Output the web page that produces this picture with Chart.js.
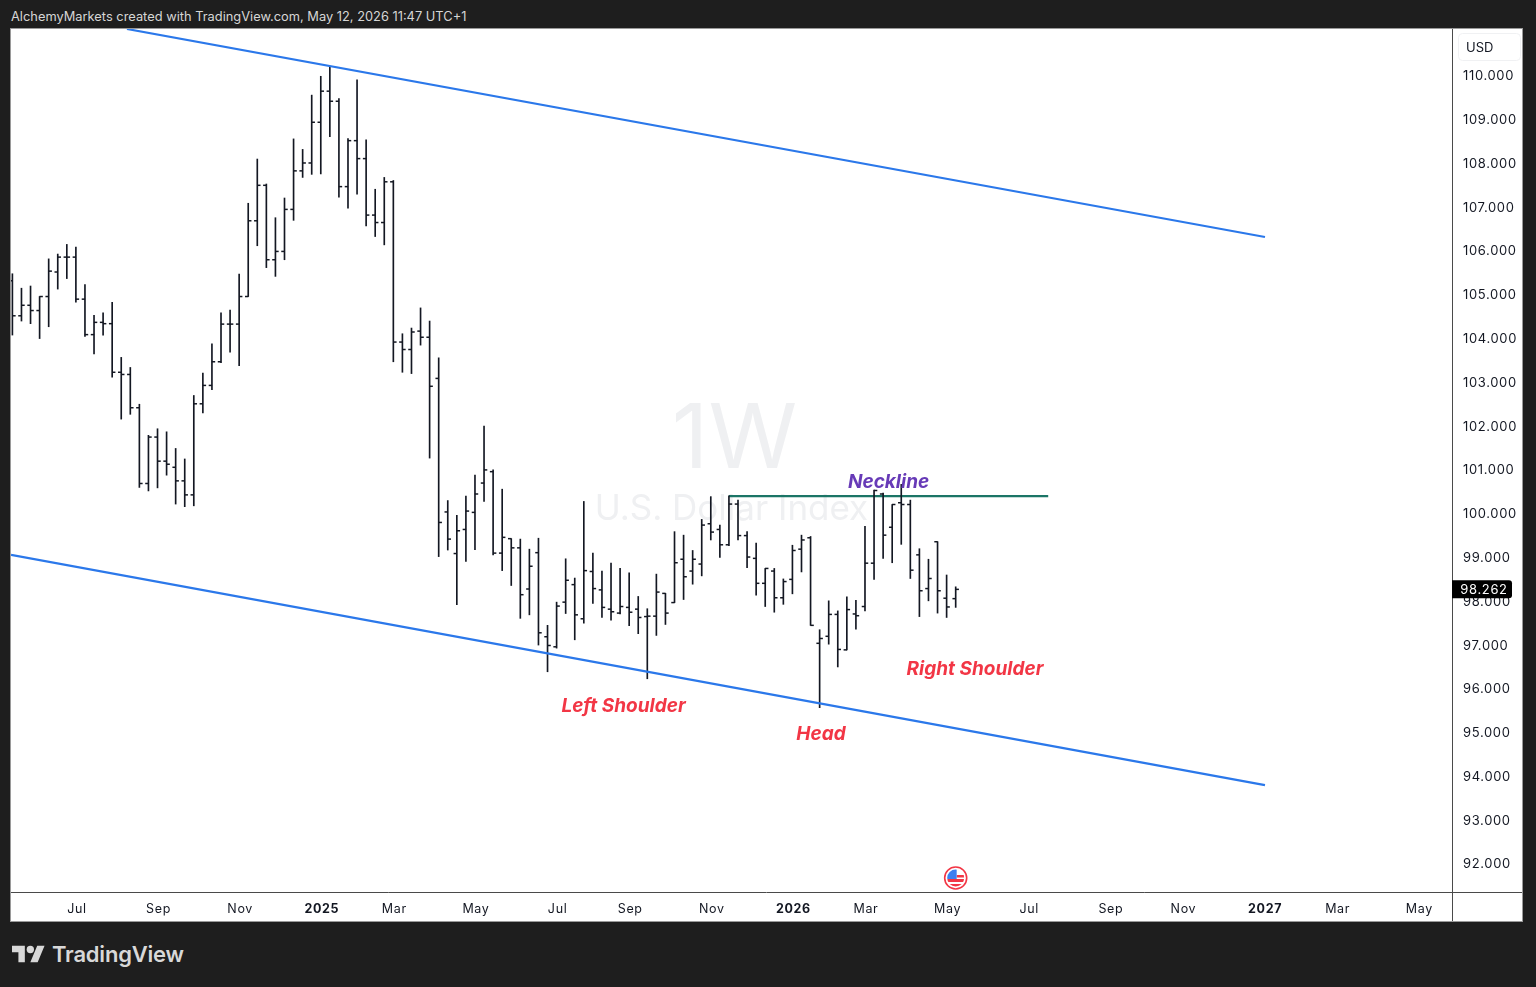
<!DOCTYPE html>
<html>
<head>
<meta charset="utf-8">
<title>U.S. Dollar Index 1W</title>
<script src="https://cdn.jsdelivr.net/npm/chart.js@4"></script>
<style>
    html, body { margin: 0; padding: 0; background: #1e1e1e; width: 1536px; height: 987px; overflow: hidden; }
    #chart { position: absolute; left: 11px; top: 29px; background: #fff; outline: 1px solid #9a9a9a; }
    #head { position: absolute; left: 11px; top: 9px; color: #d6d6d6; font: 12.85px Inter, sans-serif; white-space: nowrap; }
    #logo { position: absolute; left: 12px; top: 942px; }
    #brand { position: absolute; left: 52px; top: 941px; color: #d8d8d8; font: 600 22px Inter, sans-serif; letter-spacing: -0.2px; }
</style>
</head>
<body>
<div id="head">AlchemyMarkets created with TradingView.com, May 12, 2026 11:47 UTC+1</div>
<canvas id="chart" width="1511" height="892"></canvas>
<svg id="logo" width="33" height="26" viewBox="0 0 36 28"><path fill="#d8d8d8" d="M14 22H7V11H0V4h14v18zM28 22h-8l7.5-18h8L28 22z"/><circle fill="#d8d8d8" cx="20" cy="8" r="4"/></svg>
<div id="brand">TradingView</div>
<script>
// weekly bars
var opens = [105.31, 104.51, 104.75, 104.63, 104.95, 105.51, 105.85, 105.85, 104.89, 104.08, 104.36, 104.33, 103.22, 103.17, 102.41, 100.68, 101.74, 101.19, 101.05, 100.74, 100.42, 102.50, 102.92, 103.46, 104.32, 104.32, 104.95, 106.68, 107.49, 105.79, 105.98, 106.94, 107.82, 108.00, 108.93, 109.64, 109.41, 107.46, 108.51, 108.10, 106.81, 106.64, 107.57,
    103.91, 103.74, 104.16, 104.02, 103.08, 100.03, 99.08, 99.63, 100.02, 100.69, 100.95, 99.09, 99.42, 99.21, 98.27, 99.10, 97.18, 96.95, 97.97, 98.37,
    97.59, 98.67, 98.25, 97.81, 97.72, 97.85, 97.81, 97.64, 97.65, 98.17, 97.96, 98.95, 98.68, 98.84, 99.76, 99.63, 99.28, 100.21, 99.49, 98.97, 98.40,
    98.68, 98.07, 98.49, 99.18, 99.44, 97.03, 97.19, 97.69, 96.88, 97.70, 97.87, 98.86, 100.44, 99.68, 100.24, 100.20, 99.05, 98.28, 99.35, 98.06, 98.05];
var highs = [105.47, 105.14, 105.19, 104.95, 105.81, 105.92, 106.14, 106.08, 105.22, 104.52, 104.58, 104.82, 103.56, 103.33, 102.49, 101.78, 101.93, 101.86, 101.48, 101.24, 102.69, 103.20, 103.87, 104.58, 104.64, 105.46, 107.08, 108.09, 107.52, 106.75, 107.20, 108.55, 108.31, 109.55, 109.98, 110.20, 109.47, 108.56, 109.90, 108.53, 107.40, 107.67, 107.60,
    104.10, 104.23, 104.69, 104.39, 103.55, 100.29, 99.95, 100.39, 100.87, 101.99, 100.99, 100.55, 99.42, 99.41, 99.18, 99.43, 97.44, 97.97, 98.96, 98.52,
    100.27, 99.09, 98.68, 98.86, 98.74, 98.64, 98.10, 97.82, 98.61, 98.17, 99.58, 99.50, 99.15, 99.86, 100.38, 99.73, 100.40, 100.30, 99.58, 99.32, 98.74,
    98.74, 98.50, 99.27, 99.50, 99.47, 97.34, 98.00, 97.77, 98.09, 98.01, 99.70, 100.53, 100.46, 100.20, 100.66, 100.30, 99.19, 98.95, 99.35, 98.59, 98.32];
var lows = [104.07, 104.39, 104.33, 103.99, 104.26, 105.12, 105.36, 104.82, 104.04, 103.64, 104.07, 103.11, 102.15, 102.26, 100.59, 100.51, 100.58, 100.87, 100.21, 100.15, 100.17, 102.29, 102.82, 103.44, 103.68, 103.37, 104.95, 106.11, 105.61, 105.41, 105.79, 106.69, 107.67, 107.74, 107.75, 108.60, 107.22, 106.97, 107.29, 106.56, 106.32, 106.13, 103.46,
    103.22, 103.19, 103.84, 101.26, 99.01, 99.16, 97.91, 98.90, 99.17, 100.27, 99.05, 98.69, 98.35, 97.60, 97.68, 96.99, 96.38, 96.92, 97.71, 97.11,
    97.49, 97.94, 97.62, 97.56, 97.70, 97.43, 97.25, 96.22, 97.21, 97.46, 97.96, 98.03, 98.38, 98.57, 99.39, 98.99, 99.26, 99.39, 98.76, 98.13, 97.87,
    97.74, 97.92, 98.16, 98.66, 97.44, 95.56, 97.01, 96.49, 96.88, 97.35, 97.77, 98.49, 98.97, 98.87, 99.29, 98.51, 97.64, 98.00, 97.72, 97.62, 97.85];
var closes = [104.51, 104.75, 104.63, 104.95, 105.53, 105.85, 105.85, 104.89, 104.08, 104.36, 104.33, 103.22, 103.17, 102.41, 100.68, 101.74, 101.19, 101.12, 100.74, 100.42, 102.50, 102.92, 103.46, 104.32, 104.32, 104.95, 106.68, 107.49, 105.79, 105.98, 106.94, 107.82, 108.00, 108.93, 109.64, 109.41, 107.46, 108.51, 108.10, 106.81, 106.64, 107.57, 103.91,
    103.74, 104.14, 104.02, 102.90, 99.79, 99.41, 99.60, 100.05, 100.44, 100.99, 99.09, 99.45, 99.21, 98.14, 98.79, 97.27, 96.98, 97.88, 98.47, 97.68,
    98.69, 98.28, 97.85, 97.75, 97.87, 97.74, 97.62, 97.65, 98.20, 97.72, 98.87, 98.55, 98.95, 99.73, 99.57, 99.28, 100.21, 99.49, 99.00, 98.40, 98.74,
    98.07, 98.44, 99.15, 99.39, 97.44, 97.14, 97.69, 96.89, 97.80, 97.66, 98.86, 100.52, 99.50, 100.20, 100.20, 98.70, 98.23, 98.51, 98.23, 97.86, 98.262];

var xTickIdx = [7, 16, 25, 34, 42, 51, 60, 68, 77, 86, 94, 103, 112, 121, 129, 138, 146, 155];
var xTickLabels = ['Jul', 'Sep', 'Nov', '2025', 'Mar', 'May', 'Jul', 'Sep', 'Nov', '2026', 'Mar', 'May', 'Jul', 'Sep', 'Nov', '2027', 'Mar', 'May'];
var yTicks = [92, 93, 94, 95, 96, 97, 98, 99, 100, 101, 102, 103, 104, 105, 106, 107, 108, 109, 110];

// drawn lines: [bar index, price] ends
var upperLine = [[12.63, 111.06], [138.1, 106.31]];
var lowerLine = [[-0.15, 99.05], [138.1, 93.79]];
var neckLine = [[79, 100.39], [114.2, 100.39]];

var noteTexts = ['Left Shoulder', 'Head', 'Right Shoulder', 'Neckline'];
var noteIdx = [67.38, 89.15, 106.13, 96.6];
var notePrices = [95.62, 94.98, 96.47, 100.74];
var noteColors = ['#f23645', '#f23645', '#f23645', '#673ab7'];

var lastPrice = closes[closes.length - 1];
var FONT = 'Inter, sans-serif';

function toPoints(line) {
    return line.map(function(p) { return { x: p[0], y: p[1] }; });
}

function lineDataset(line, color, width) {
    return {
        type: 'line',
        data: toPoints(line),
        borderColor: color,
        borderWidth: width,
        pointRadius: 0,
        tension: 0
    };
}

function tickDataset(values, shift) {
    return {
        type: 'scatter',
        data: values.map(function(v, i) { return { x: i + shift, y: v }; }),
        pointStyle: 'line',
        pointRadius: 1.7,
        pointBorderWidth: 1.5,
        pointBorderColor: '#131722',
        borderColor: '#131722'
    };
}

function noPadding(scale) {
    scale.paddingTop = 0;
    scale.paddingBottom = 0;
    scale.paddingLeft = 0;
    scale.paddingRight = 0;
}

var sheetPlugin = {
    id: 'sheet',
    beforeDraw: function(chart) {
        // axis labels in the reference have wide tabular digits
        chart.ctx.letterSpacing = '0.65px';
    },
    beforeDatasetsDraw: function(chart) {
        var ctx = chart.ctx, area = chart.chartArea;
        var cx = (area.left + area.right) / 2, cy = (area.top + area.bottom) / 2;
        ctx.save();
        ctx.letterSpacing = '0px';
        ctx.fillStyle = '#eff0f2';
        ctx.textAlign = 'center';
        ctx.textBaseline = 'middle';
        ctx.font = '90px ' + FONT;
        ctx.fillText('1W', cx + 3, cy - 20);
        ctx.font = '35px ' + FONT;
        ctx.fillText('U.S. Dollar Index', cx, cy + 49);
        ctx.restore();
    },
    afterDatasetsDraw: function(chart) {
        var ctx = chart.ctx, area = chart.chartArea;
        var xs = chart.scales.x, ys = chart.scales.y;
        var i;
        ctx.save();
        ctx.letterSpacing = '0px';

        // hand drawn notes
        ctx.textAlign = 'center';
        ctx.textBaseline = 'middle';
        ctx.font = 'italic bold 19px ' + FONT;
        for (i = 0; i < noteTexts.length; i++) {
            ctx.fillStyle = noteColors[i];
            ctx.fillText(noteTexts[i], xs.getPixelForValue(noteIdx[i]), ys.getPixelForValue(notePrices[i]) + 1);
        }

        // axis separators run the full height and width of the white panel
        ctx.strokeStyle = '#4a4a4a';
        ctx.lineWidth = 1;
        ctx.beginPath();
        ctx.moveTo(area.right + 0.5, 0);
        ctx.lineTo(area.right + 0.5, chart.height);
        ctx.moveTo(0, area.bottom + 0.5);
        ctx.lineTo(chart.width, area.bottom + 0.5);
        ctx.stroke();

        // USD box
        ctx.strokeStyle = '#f0f1f3';
        ctx.beginPath();
        ctx.roundRect(area.right + 6.5, 4.5, 62, 27, 4);
        ctx.stroke();
        ctx.fillStyle = '#131722';
        ctx.textAlign = 'left';
        ctx.font = '13px ' + FONT;
        ctx.fillText('USD', area.right + 14, 19.5);

        // last price badge
        var py = ys.getPixelForValue(lastPrice);
        ctx.fillStyle = '#000';
        ctx.beginPath();
        ctx.roundRect(area.right, py - 9, 60, 18, [0, 3, 3, 0]);
        ctx.fill();
        ctx.fillStyle = '#fff';
        ctx.textAlign = 'center';
        ctx.letterSpacing = '0.65px';
        ctx.fillText(lastPrice.toFixed(3), area.right + 32, py + 0.5);
        ctx.letterSpacing = '0px';

        // earnings style flag marker
        var fx = xs.getPixelForValue(closes.length - 1), fy = area.bottom - 14;
        ctx.beginPath();
        ctx.arc(fx, fy, 11, 0, Math.PI * 2);
        ctx.fillStyle = '#fff';
        ctx.fill();
        ctx.lineWidth = 1.6;
        ctx.strokeStyle = '#f23645';
        ctx.stroke();
        ctx.beginPath();
        ctx.arc(fx, fy, 8.5, 0, Math.PI * 2);
        ctx.clip();
        ctx.fillStyle = '#f23645';
        ctx.fillRect(fx - 9, fy + 1, 18, 3);
        ctx.fillRect(fx - 9, fy + 6, 18, 3);
        ctx.fillRect(fx + 1, fy - 3, 8, 2.5);
        ctx.fillStyle = '#3d7ff0';
        ctx.fillRect(fx - 9, fy - 9, 10, 10);
        ctx.restore();
    }
};

new Chart(document.getElementById('chart').getContext('2d'), {
    type: 'bar',
    data: {
        datasets: [
            lineDataset(upperLine, '#2b78ea', 2.2),
            lineDataset(lowerLine, '#2b78ea', 2.2),
            {
                type: 'bar',
                data: highs.map(function(h, i) { return { x: i, y: [lows[i], h] }; }),
                backgroundColor: '#131722',
                barThickness: 1,
                grouped: false
            },
            tickDataset(opens, -0.17),
            tickDataset(closes, 0.17),
            lineDataset(neckLine, '#1b7566', 2.2)
        ]
    },
    options: {
        responsive: false,
        animation: false,
        layout: { padding: 0, autoPadding: false },
        plugins: { legend: { display: false }, tooltip: { enabled: false } },
        scales: {
            x: {
                type: 'linear',
                offset: false,
                min: -0.154,
                max: 158.72,
                grid: { display: false, offset: false },
                border: { display: false },
                afterFit: function(scale) { scale.height = 29; noPadding(scale); },
                afterBuildTicks: function(scale) {
                    scale.ticks = xTickIdx.map(function(v) { return { value: v }; });
                },
                ticks: {
                    autoSkip: false,
                    maxRotation: 0,
                    padding: 2,
                    labelOffset: 1,
                    color: '#131722',
                    font: function(c) {
                        var bold = c.tick && xTickLabels[xTickIdx.indexOf(c.tick.value)].length == 4;
                        return { family: FONT, size: 12.5, weight: bold ? 'bold' : 'normal' };
                    },
                    callback: function(v) { return xTickLabels[xTickIdx.indexOf(v)]; }
                }
            },
            y: {
                position: 'right',
                min: 91.35,
                max: 111.06,
                grid: { display: false },
                border: { display: false },
                afterFit: function(scale) { scale.width = 70; noPadding(scale); },
                afterBuildTicks: function(scale) {
                    scale.ticks = yTicks.map(function(v) { return { value: v }; });
                },
                ticks: {
                    padding: 3,
                    labelOffset: 1,
                    color: '#131722',
                    font: { family: FONT, size: 13 },
                    callback: function(v) { return v.toFixed(3); }
                }
            }
        }
    },
    plugins: [sheetPlugin]
});
</script>
</body>
</html>
